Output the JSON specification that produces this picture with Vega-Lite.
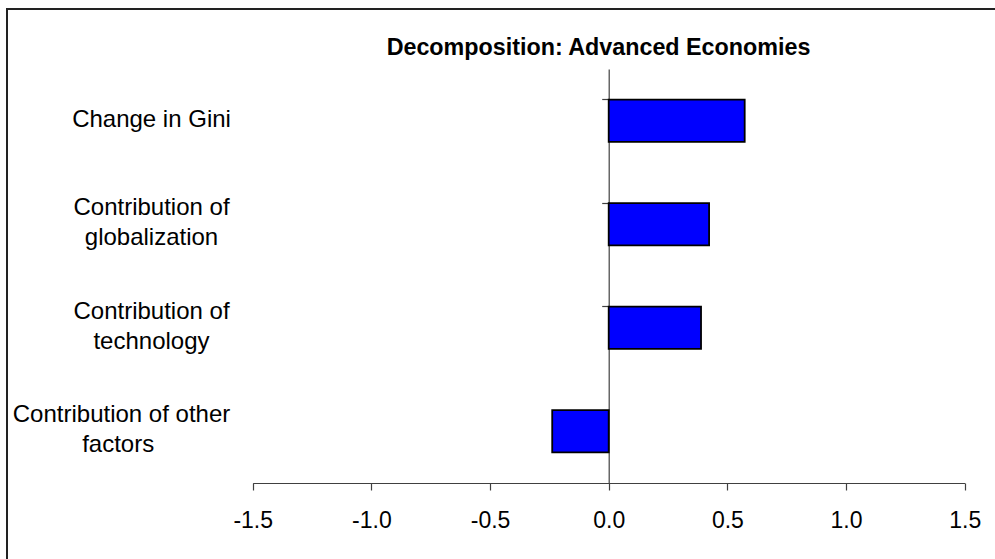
{
  "$schema": "https://vega.github.io/schema/vega-lite/v6.json",
  "autosize": "none",
  "width": 993,
  "height": 555,
  "padding": {"left": 7, "top": 9, "right": 0, "bottom": 0},
  "background": "white",
  "config": {
    "view": {"stroke": "#222222", "strokeWidth": 2},
    "font": "Liberation Sans"
  },
  "title": {
    "text": "Decomposition: Advanced Economies",
    "font": "Liberation Sans",
    "fontSize": 23.3,
    "fontWeight": "bold",
    "color": "black",
    "anchor": "middle",
    "frame": "group",
    "baseline": "alphabetic",
    "offset": -45,
    "dx": 95,
    "dy": 24
  },
  "data": {
    "values": [
      {"item": "Change in Gini", "value": 0.573},
      {"item": "Contribution of globalization", "value": 0.423},
      {"item": "Contribution of technology", "value": 0.389},
      {"item": "Contribution of other factors", "value": -0.238}
    ]
  },
  "resolve": {"axis": {"y": "independent"}},
  "layer": [
    {
      "mark": {"type": "bar", "fill": "#0000FF", "stroke": "black", "strokeWidth": 1.8},
      "encoding": {
        "y": {
          "field": "item",
          "type": "nominal",
          "sort": null,
          "scale": {"range": [60, 474], "paddingInner": 0.59, "paddingOuter": 0.295},
          "axis": {
            "title": null,
            "orient": "left",
            "offset": -601.7,
            "ticks": false,
            "domainColor": "#404040",
            "domainWidth": 1.2,
            "grid": false,
            "labelFont": "Liberation Sans",
            "labelFontSize": 24,
            "labelColor": "black",
            "labelAlign": "center",
            "labelBaseline": "middle",
            "labelPadding": 457.7,
            "labelLimit": 0,
            "labelLineHeight": 30,
            "labelOffset": {"condition": {"test": "datum.value == 'Change in Gini'", "value": -1}, "value": -16},
            "labelOverlap": false,
            "labelBound": false,
            "labelExpr": "datum.value == 'Change in Gini' ? 'Change in Gini' : datum.value == 'Contribution of globalization' ? ['Contribution of', 'globalization'] : datum.value == 'Contribution of technology' ? ['Contribution of', 'technology'] : ['Contribution of other\u00a0\u00a0\u00a0\u00a0\u00a0\u00a0\u00a0\u00a0\u00a0\u2060', 'factors\u00a0\u00a0\u00a0\u00a0\u00a0\u00a0\u00a0\u00a0\u00a0\u00a0\u2060']"
          }
        },
        "x": {
          "field": "value",
          "type": "quantitative",
          "scale": {"domain": [-1.5, 1.5], "range": [245.7, 957.7], "nice": false, "zero": false},
          "axis": {
            "title": null,
            "orient": "bottom",
            "offset": -81,
            "values": [-1.5, -1, -0.5, 0, 0.5, 1, 1.5],
            "format": ".1f",
            "labelExpr": "replace(datum.label, '\u2212', '-')",
            "tickSize": 7,
            "tickColor": "#404040",
            "domainColor": "#404040",
            "domainWidth": 1.2,
            "tickWidth": 1.2,
            "grid": false,
            "labelFont": "Liberation Sans",
            "labelFontSize": 23,
            "labelColor": "black",
            "labelBaseline": "alphabetic",
            "labelPadding": 37,
            "labelOverlap": false,
            "labelBound": false,
            "labelFlush": false
          }
        }
      }
    },
    {
      "mark": {"type": "bar", "opacity": 0},
      "encoding": {
        "y": {
          "field": "item",
          "type": "nominal",
          "sort": null,
          "axis": {
            "title": null,
            "orient": "left",
            "offset": -601.7,
            "bandPosition": 0,
            "labels": false,
            "domain": false,
            "grid": false,
            "tickSize": 7,
            "tickWidth": 1.2,
            "tickColor": "#404040"
          }
        },
        "x": {"field": "value", "type": "quantitative"}
      }
    }
  ]
}
